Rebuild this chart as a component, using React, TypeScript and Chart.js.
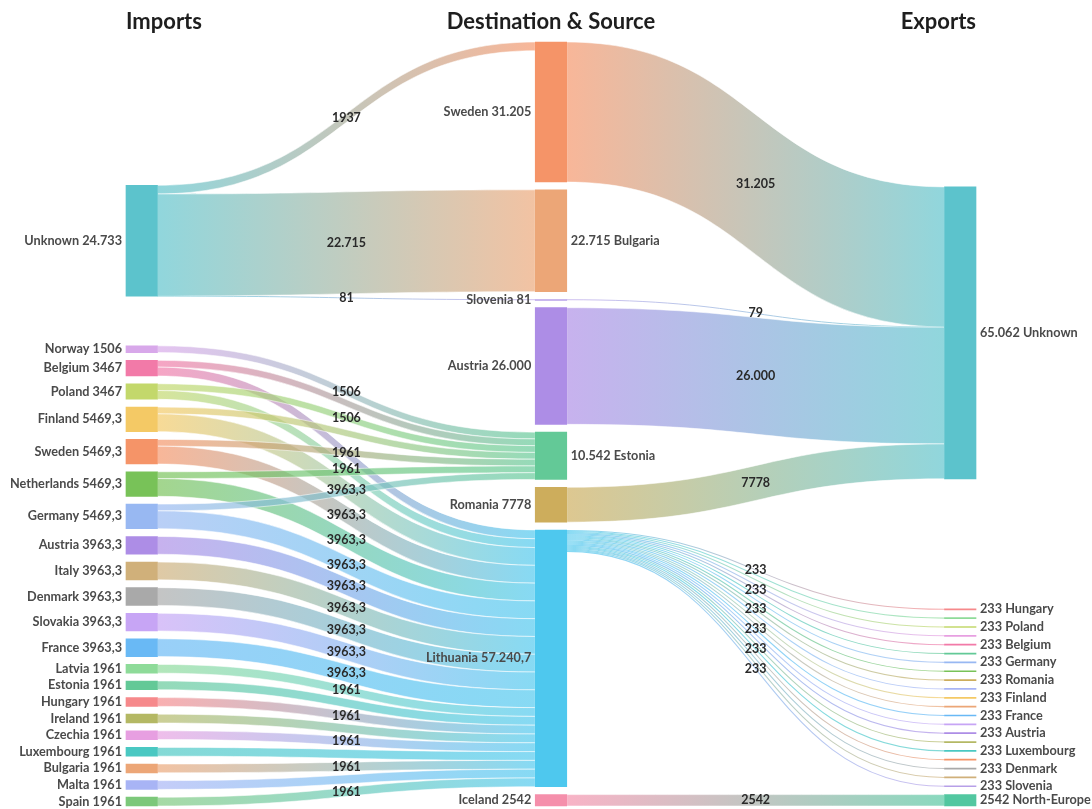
import React, { useEffect, useRef } from 'react';
import { Chart, registerables } from 'chart.js';

Chart.register(...registerables);

const WIDTH = 1092;
const HEIGHT = 809;

const COLUMN_TITLES = ['Imports', 'Destination & Source', 'Exports'];
const COLUMN_PREFIX = ['I', 'H', 'E'];

// Column 0 – Imports
const IMPORT_NAMES = [
  'Unknown', 'Norway', 'Belgium', 'Poland', 'Finland', 'Sweden', 'Netherlands', 'Germany',
  'Austria', 'Italy', 'Denmark', 'Slovakia', 'France', 'Latvia', 'Estonia', 'Hungary',
  'Ireland', 'Czechia', 'Luxembourg', 'Bulgaria', 'Malta', 'Spain',
];
const IMPORT_VALUES = [
  24733, 1506, 3467, 3467, 5469.3, 5469.3, 5469.3, 5469.3,
  3963.3, 3963.3, 3963.3, 3963.3, 3963.3, 1961, 1961, 1961,
  1961, 1961, 1961, 1961, 1961, 1961,
];

// Column 1 – Destination & Source
const HUB_NAMES = ['Sweden', 'Bulgaria', 'Slovenia', 'Austria', 'Estonia', 'Romania', 'Lithuania', 'Iceland'];
const HUB_VALUES = [31205, 22715, 81, 26000, 10542, 7778, 57240.7, 2542];

// Column 2 – Exports
const EXPORT_NAMES = [
  'Unknown', 'Hungary', 'Latvia', 'Poland', 'Czechia', 'Belgium', 'Estonia', 'Germany',
  'Netherlands', 'Romania', 'Malta', 'Finland', 'Bulgaria', 'France', 'Slovakia', 'Austria',
  'Ireland', 'Luxembourg', 'Sweden', 'Denmark', 'Italy', 'Slovenia', 'North-Europe',
];
const EXPORT_VALUES = [
  65062, 233, 233, 233, 233, 233, 233, 233,
  233, 233, 233, 233, 233, 233, 233, 233,
  233, 233, 233, 233, 233, 233, 2542,
];

// Flows
const FLOW_SOURCES = [
  'I:Unknown', 'I:Unknown', 'I:Unknown',
  'I:Norway',
  'I:Belgium', 'I:Belgium',
  'I:Poland', 'I:Poland',
  'I:Finland', 'I:Finland',
  'I:Sweden', 'I:Sweden',
  'I:Netherlands', 'I:Netherlands',
  'I:Germany', 'I:Germany',
  'I:Austria', 'I:Italy', 'I:Denmark', 'I:Slovakia', 'I:France',
  'I:Latvia', 'I:Estonia', 'I:Hungary', 'I:Ireland', 'I:Czechia', 'I:Luxembourg', 'I:Bulgaria', 'I:Malta', 'I:Spain',
  'H:Sweden', 'H:Slovenia', 'H:Austria', 'H:Romania',
  'H:Lithuania', 'H:Lithuania', 'H:Lithuania', 'H:Lithuania', 'H:Lithuania', 'H:Lithuania', 'H:Lithuania',
  'H:Lithuania', 'H:Lithuania', 'H:Lithuania', 'H:Lithuania', 'H:Lithuania', 'H:Lithuania', 'H:Lithuania',
  'H:Lithuania', 'H:Lithuania', 'H:Lithuania', 'H:Lithuania', 'H:Lithuania', 'H:Lithuania', 'H:Lithuania',
  'H:Iceland',
];
const FLOW_TARGETS = [
  'H:Sweden', 'H:Bulgaria', 'H:Slovenia',
  'H:Estonia',
  'H:Estonia', 'H:Lithuania',
  'H:Estonia', 'H:Lithuania',
  'H:Estonia', 'H:Lithuania',
  'H:Estonia', 'H:Lithuania',
  'H:Estonia', 'H:Lithuania',
  'H:Estonia', 'H:Lithuania',
  'H:Lithuania', 'H:Lithuania', 'H:Lithuania', 'H:Lithuania', 'H:Lithuania',
  'H:Lithuania', 'H:Lithuania', 'H:Lithuania', 'H:Lithuania', 'H:Lithuania', 'H:Lithuania', 'H:Lithuania', 'H:Lithuania', 'H:Lithuania',
  'E:Unknown', 'E:Unknown', 'E:Unknown', 'E:Unknown',
  'E:Hungary', 'E:Latvia', 'E:Poland', 'E:Czechia', 'E:Belgium', 'E:Estonia', 'E:Germany',
  'E:Netherlands', 'E:Romania', 'E:Malta', 'E:Finland', 'E:Bulgaria', 'E:France', 'E:Slovakia',
  'E:Austria', 'E:Ireland', 'E:Luxembourg', 'E:Sweden', 'E:Denmark', 'E:Italy', 'E:Slovenia',
  'E:North-Europe',
];
const FLOW_VALUES = [
  1937, 22715, 81,
  1506,
  1506, 1961,
  1506, 1961,
  1506, 3963.3,
  1506, 3963.3,
  1506, 3963.3,
  1506, 3963.3,
  3963.3, 3963.3, 3963.3, 3963.3, 3963.3,
  1961, 1961, 1961, 1961, 1961, 1961, 1961, 1961, 1961,
  31205, 79, 26000, 7778,
  233, 233, 233, 233, 233, 233, 233,
  233, 233, 233, 233, 233, 233, 233,
  233, 233, 233, 233, 233, 233, 233,
  2542,
];

const COUNTRY_COLORS: Record<string, string> = {
  Unknown: '#5cc3cc',
  Sweden: '#f59468',
  Bulgaria: '#eca677',
  Slovenia: '#b7a0e8',
  Austria: '#ad8de6',
  Estonia: '#63c997',
  Romania: '#cdad5c',
  Lithuania: '#4ec8ee',
  Iceland: '#f58fab',
  'North-Europe': '#52c7a0',
  Norway: '#d8a8ea',
  Belgium: '#f27aa8',
  Poland: '#c3d86b',
  Finland: '#f4c965',
  Netherlands: '#78c258',
  Germany: '#98b8f2',
  Italy: '#d0b07a',
  Denmark: '#a9a9a9',
  Slovakia: '#c7a5f5',
  France: '#69b9f5',
  Latvia: '#8edb99',
  Hungary: '#f6898b',
  Ireland: '#b4b864',
  Czechia: '#e79fe1',
  Luxembourg: '#4ac8c2',
  Malta: '#a8b4f5',
  Spain: '#7cc87a',
};

// Styling
const BAR_PX = 31.5;
const NODE_PAD_RATIO = 0.011;
const LINK_ALPHA = 0.68;
const NODE_FONT = 'bold 12.7px Lato';
const LINK_FONT = 'bold 12.5px Lato';
const TITLE_FONT = 'bold 22px Lato';

type SLink = {
  source: SNode; target: SNode; value: number;
  sy0: number; sy1: number; ty0: number; ty1: number;
};
type SNode = {
  key: string; name: string; col: number; total: number; color: string;
  y0: number; y1: number; ins: SLink[]; outs: SLink[]; inSum: number; outSum: number;
};

function fmt(v: number): string {
  const hasDec = Math.round(v * 10) % 10 !== 0;
  const [intPart, decPart] = v.toFixed(hasDec ? 1 : 0).split('.');
  const grouped = intPart.length > 4 ? intPart.replace(/\B(?=(\d{3})+(?!\d))/g, '.') : intPart;
  return decPart ? `${grouped},${decPart}` : grouped;
}

function rgba(hex: string, a: number): string {
  const h = hex.replace('#', '');
  const r = parseInt(h.slice(0, 2), 16);
  const g = parseInt(h.slice(2, 4), 16);
  const b = parseInt(h.slice(4, 6), 16);
  return `rgba(${r},${g},${b},${a})`;
}

function computeSankey() {
  const names = [IMPORT_NAMES, HUB_NAMES, EXPORT_NAMES];
  const totals = [IMPORT_VALUES, HUB_VALUES, EXPORT_VALUES];
  const nodes: SNode[] = [];
  names.forEach((list, col) =>
    list.forEach((name, i) =>
      nodes.push({
        key: `${COLUMN_PREFIX[col]}:${name}`, name, col, total: totals[col][i],
        color: COUNTRY_COLORS[name] || '#999999', y0: 0, y1: 0, ins: [], outs: [], inSum: 0, outSum: 0,
      })
    )
  );
  const map = new Map(nodes.map((n) => [n.key, n]));
  const links: SLink[] = FLOW_VALUES.map((value, i) => ({
    source: map.get(FLOW_SOURCES[i])!, target: map.get(FLOW_TARGETS[i])!, value,
    sy0: 0, sy1: 0, ty0: 0, ty1: 0,
  }));
  links.forEach((l) => {
    l.source.outs.push(l); l.target.ins.push(l);
    l.source.outSum += l.value; l.target.inSum += l.value;
  });
  const cols = [0, 1, 2].map((c) => nodes.filter((n) => n.col === c));
  const sums = cols.map((c) => c.reduce((a, n) => a + n.total, 0));
  const pad = Math.max(...sums) * NODE_PAD_RATIO;
  const spans = cols.map((c, i) => sums[i] + (c.length - 1) * pad);
  const extent = Math.max(...spans);
  const anchor = spans.indexOf(extent);
  let y = 0;
  cols[anchor].forEach((n) => { n.y0 = y; n.y1 = y + n.total; y = n.y1 + pad; });
  const placed = new Set<SNode>(cols[anchor]);
  const center = (n: SNode) => (n.y0 + n.y1) / 2;
  const order = [0, 1, 2].filter((c) => c !== anchor)
    .sort((a, b) => Math.abs(a - anchor) - Math.abs(b - anchor));
  order.forEach((c) => {
    const ideal = new Map<SNode, number>();
    cols[c].forEach((n) => {
      const ps = [...n.ins.map((l) => l.source), ...n.outs.map((l) => l.target)]
        .filter((p) => placed.has(p)).map(center).sort((a, b) => a - b);
      const m = ps.length;
      const med = m === 0 ? extent / 2 : m % 2 ? ps[(m - 1) / 2] : (ps[m / 2 - 1] + ps[m / 2]) / 2;
      ideal.set(n, med);
    });
    const sorted = cols[c].slice().sort((a, b) => ideal.get(a)! - ideal.get(b)!);
    sorted.forEach((n) => { n.y0 = ideal.get(n)! - n.total / 2; n.y1 = n.y0 + n.total; });
    let yy = 0;
    sorted.forEach((n) => {
      if (n.y0 < yy) { n.y0 = yy; n.y1 = yy + n.total; }
      yy = n.y1 + pad;
    });
    yy = extent;
    for (let i = sorted.length - 1; i >= 0; i--) {
      const n = sorted[i];
      if (n.y1 > yy) { n.y1 = yy; n.y0 = yy - n.total; }
      yy = n.y0 - pad;
    }
    sorted.forEach((n) => placed.add(n));
  });
  nodes.forEach((n) => {
    const outScale = n.outSum > n.total ? n.total / n.outSum : 1;
    let yo = n.y0;
    n.outs.slice().sort((a, b) => center(a.target) - center(b.target)).forEach((l) => {
      l.sy0 = yo; yo += l.value * outScale; l.sy1 = yo;
    });
    const inScale = n.inSum > n.total ? n.total / n.inSum : 1;
    let yi = n.y0;
    n.ins.slice().sort((a, b) => center(a.source) - center(b.source)).forEach((l) => {
      l.ty0 = yi; yi += l.value * inScale; l.ty1 = yi;
    });
  });
  return { nodes, links, extent };
}

export default function App() {
  const canvasRef = useRef<HTMLCanvasElement | null>(null);

  useEffect(() => {
    const canvas = canvasRef.current;
    if (!canvas) return;
    const { nodes, links, extent } = computeSankey();
    const half = BAR_PX / 2;

    const sankeyPlugin = {
      id: 'sankeyFlows',
      beforeDatasetsDraw(chart: any) {
        const ctx = chart.ctx as CanvasRenderingContext2D;
        const xs = chart.scales.x;
        const ys = chart.scales.y;
        ctx.save();
        links.forEach((l) => {
          const x0 = xs.getPixelForValue(l.source.col) + half;
          const x1 = xs.getPixelForValue(l.target.col) - half;
          const s0 = ys.getPixelForValue(l.sy0);
          const s1 = ys.getPixelForValue(l.sy1);
          const t0 = ys.getPixelForValue(l.ty0);
          const t1 = ys.getPixelForValue(l.ty1);
          const xm = (x0 + x1) / 2;
          const g = ctx.createLinearGradient(x0, 0, x1, 0);
          g.addColorStop(0, rgba(l.source.color, LINK_ALPHA));
          g.addColorStop(1, rgba(l.target.color, LINK_ALPHA));
          const thick = Math.max(s1 - s0, t1 - t0);
          if (thick < 2) {
            const sc = (s0 + s1) / 2;
            const tc = (t0 + t1) / 2;
            ctx.beginPath();
            ctx.moveTo(x0, sc);
            ctx.bezierCurveTo(xm, sc, xm, tc, x1, tc);
            ctx.strokeStyle = g;
            ctx.lineWidth = Math.max(1, thick);
            ctx.stroke();
          } else {
            ctx.beginPath();
            ctx.moveTo(x0, s0);
            ctx.bezierCurveTo(xm, s0, xm, t0, x1, t0);
            ctx.lineTo(x1, t1);
            ctx.bezierCurveTo(xm, t1, xm, s1, x0, s1);
            ctx.closePath();
            ctx.fillStyle = g;
            ctx.fill();
            ctx.strokeStyle = 'rgba(255,255,255,0.6)';
            ctx.lineWidth = 0.9;
            ctx.stroke();
          }
        });
        ctx.restore();
      },
      afterDatasetsDraw(chart: any) {
        const ctx = chart.ctx as CanvasRenderingContext2D;
        const xs = chart.scales.x;
        const ys = chart.scales.y;
        ctx.save();
        ctx.textBaseline = 'middle';

        // Column titles
        ctx.font = TITLE_FONT;
        ctx.fillStyle = '#1e1e1e';
        const titleY = chart.chartArea.top / 2 + 1;
        ctx.textAlign = 'left';
        ctx.fillText(COLUMN_TITLES[0], xs.getPixelForValue(0) - half, titleY);
        ctx.textAlign = 'center';
        ctx.fillText(COLUMN_TITLES[1], xs.getPixelForValue(1), titleY);
        ctx.textAlign = 'right';
        ctx.fillText(COLUMN_TITLES[2], xs.getPixelForValue(2) + half, titleY);

        // Node labels
        ctx.font = NODE_FONT;
        ctx.fillStyle = '#4a4a4a';
        const lastY: Record<string, number> = {};
        nodes.slice().sort((a, b) => a.y0 - b.y0).forEach((n) => {
          const side = n.col === 0 ? 'L' : n.col === 2 ? 'R' : n.outs.length ? 'L' : 'R';
          const cy = ys.getPixelForValue((n.y0 + n.y1) / 2);
          const g = `${n.col}${side}`;
          if (lastY[g] !== undefined && cy - lastY[g] < 13) return;
          lastY[g] = cy;
          const cx = xs.getPixelForValue(n.col);
          if (side === 'L') {
            ctx.textAlign = 'right';
            ctx.fillText(`${n.name} ${fmt(n.total)}`, cx - half - 4, cy);
          } else {
            ctx.textAlign = 'left';
            ctx.fillText(`${fmt(n.total)} ${n.name}`, cx + half + 4, cy);
          }
        });

        // Link labels: larger flows get priority, overlapping ones are skipped
        ctx.font = LINK_FONT;
        ctx.fillStyle = '#2a2a2a';
        ctx.textAlign = 'center';
        const cands = links.map((l) => {
          const x0 = xs.getPixelForValue(l.source.col) + half;
          const x1 = xs.getPixelForValue(l.target.col) - half;
          const sc = ys.getPixelForValue((l.sy0 + l.sy1) / 2);
          const tc = ys.getPixelForValue((l.ty0 + l.ty1) / 2);
          return { x: (x0 + x1) / 2, y: (sc + tc) / 2, text: fmt(l.value), g: l.source.col, v: l.value };
        }).sort((a, b) => (b.v - a.v) || (a.y - b.y));
        const accepted: { y: number; g: number }[] = [];
        cands.forEach((c) => {
          if (accepted.some((a) => a.g === c.g && Math.abs(a.y - c.y) < 15.8)) return;
          accepted.push({ y: c.y, g: c.g });
          ctx.fillText(c.text, c.x, c.y);
        });
        ctx.restore();
      },
    };

    const datasets = nodes.map((n) => ({
      label: n.name,
      data: [0, 1, 2].map((c) => (c === n.col ? [n.y0, n.y1] : null)),
      backgroundColor: n.color,
      borderWidth: 0,
      barThickness: BAR_PX,
      grouped: false,
      minBarLength: 1,
      clip: false as any,
    }));

    const chart = new Chart(canvas, {
      type: 'bar',
      data: { labels: COLUMN_TITLES, datasets: datasets as any },
      options: {
        animation: false,
        responsive: false,
        events: [],
        layout: { padding: { left: 141.75, right: 131.75, top: 42, bottom: 3 } },
        scales: {
          x: { type: 'category', offset: false, display: false },
          y: { type: 'linear', min: 0, max: extent, reverse: true, display: false },
        },
        plugins: { legend: { display: false }, tooltip: { enabled: false }, title: { display: false } },
      },
      plugins: [sankeyPlugin],
    });
    return () => chart.destroy();
  }, []);

  return (
    <div style={{ position: 'fixed', left: 0, top: 0, width: WIDTH, height: HEIGHT, background: '#ffffff' }}>
      <canvas ref={canvasRef} width={WIDTH} height={HEIGHT} style={{ display: 'block', width: WIDTH, height: HEIGHT }} />
    </div>
  );
}
